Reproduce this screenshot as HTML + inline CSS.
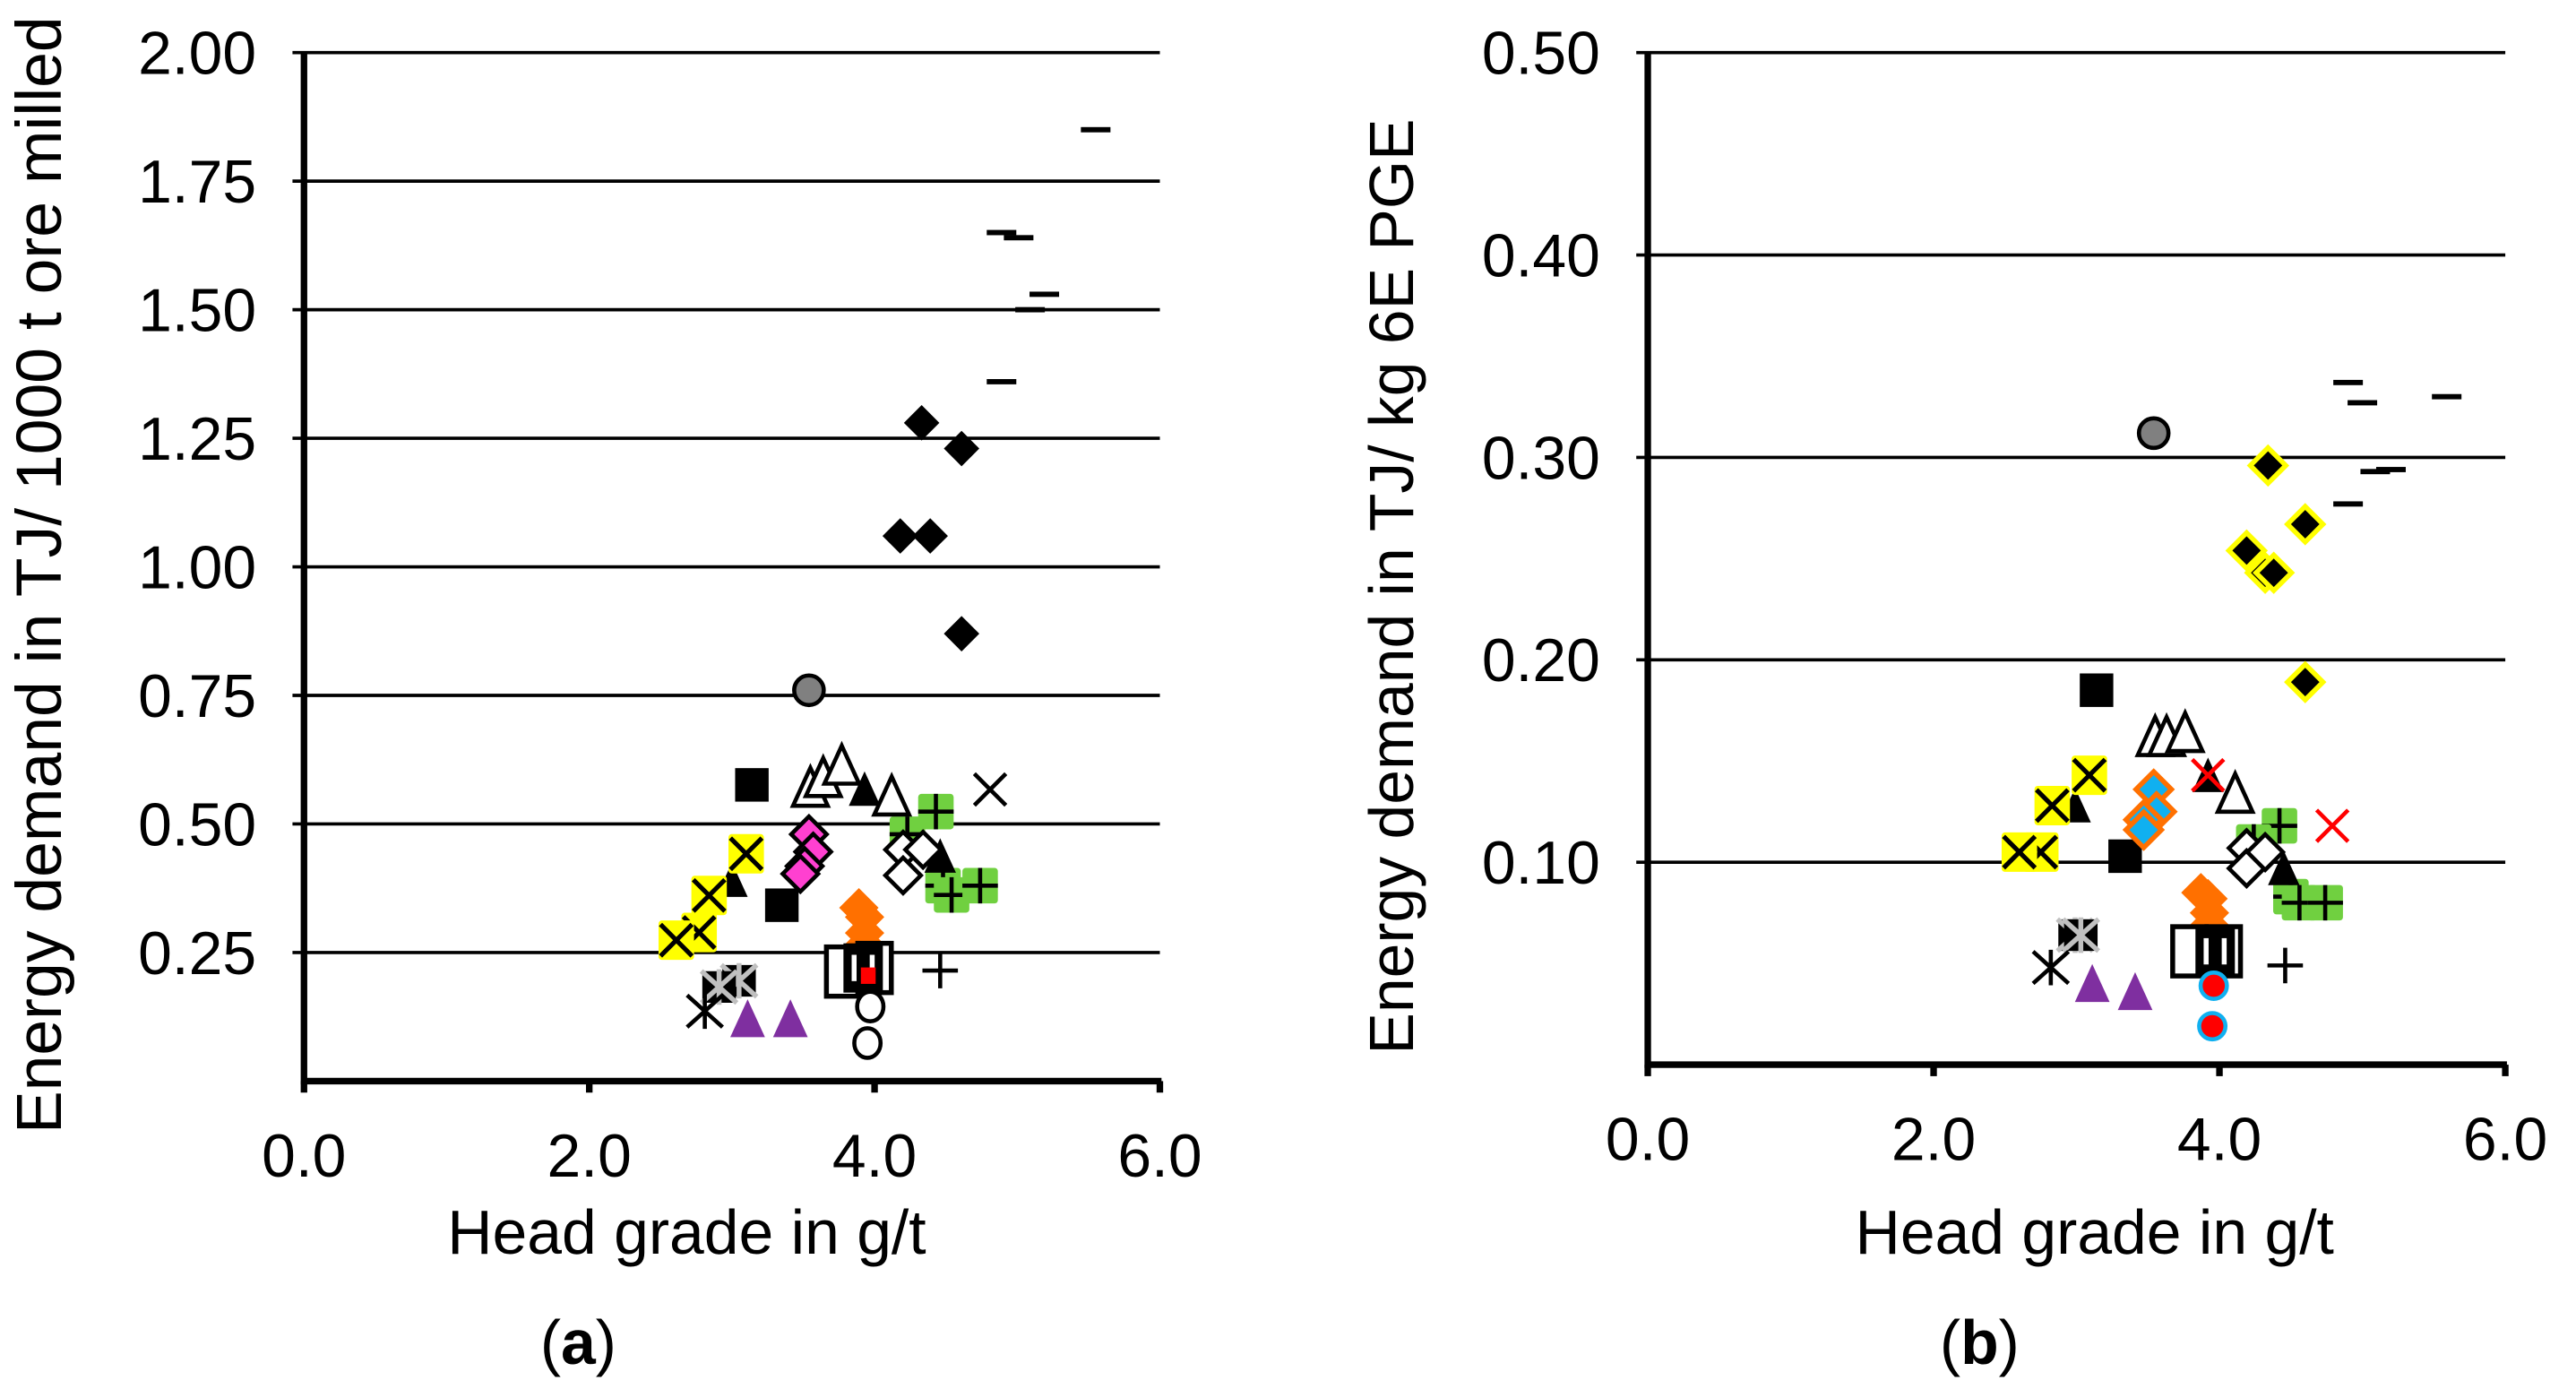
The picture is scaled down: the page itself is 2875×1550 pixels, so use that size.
<!DOCTYPE html>
<html><head><meta charset="utf-8"><style>
html,body{margin:0;padding:0;background:#fff;}
svg{display:block;}
text{font-family:"Liberation Sans",sans-serif;fill:#000;}
</style></head><body>
<svg id="fig" xmlns="http://www.w3.org/2000/svg" width="2875" height="1550" viewBox="0 0 1568 845.4">
<g id="A"></g>
<g id="B"></g>
</svg>
<script>
// ---------- Chart (a) data ----------
const aYTicks=["0.25","0.50","0.75","1.00","1.25","1.50","1.75","2.00"];
const aYTickVals=[0.25,0.5,0.75,1.0,1.25,1.5,1.75,2.0];
const xTicks=["0.0","2.0","4.0","6.0"];
const xTickVals=[0,2,4,6];
const aDashX=[5.55,4.89,5.01,5.19,5.09,4.89];
const aDashY=[1.85,1.65,1.64,1.53,1.50,1.36];
const aDiaX=[4.33,4.61,4.18,4.39,4.61];
const aDiaY=[1.28,1.23,1.06,1.06,0.87];
const aGrayCX=[3.54], aGrayCY=[0.76];
const aSqX=[3.14,3.35], aSqY=[0.576,0.342];
const aTriOX=[3.55,3.64,3.77,4.12], aTriOY=[0.567,0.586,0.61,0.55];
const aTriFX=[3.93,4.46,3.0], aTriFY=[0.564,0.434,0.387];
const aXX=[4.81], aXY=[0.567];
const aGPlusX=[4.43,4.23,4.48,4.54,4.74], aGPlusY=[0.524,0.48,0.38,0.362,0.38];
const aDiaOX=[4.2,4.2,4.34], aDiaOY=[0.45,0.40,0.45];
const aPinkX=[3.54,3.57,3.51,3.48], aPinkY=[0.48,0.446,0.418,0.403];
const aOrX=[3.89,3.93,3.93,3.93], aOrY=[0.337,0.319,0.288,0.266];
const aYXX=[3.10,2.84,2.77,2.61], aYXY=[0.442,0.361,0.289,0.274];
const aOSqX=[3.78,4.0], aOSqY=[0.213,0.22];
const aBSqX=[3.92], aBSqY=[0.22];
const aRedSqX=[3.95], aRedSqY=[0.205];
const aOCX=[3.97,3.95], aOCY=[0.145,0.074];
const aPlusX=[4.46], aPlusY=[0.215];
const aGAstX=[3.05,2.91], aGAstY=[0.195,0.183];
const aBAstX=[2.81], aBAstY=[0.136];
const aPurX=[3.11,3.41], aPurY=[0.117,0.117];
// ---------- Chart (b) data ----------
const bYTicks=["0.10","0.20","0.30","0.40","0.50"];
const bYTickVals=[0.1,0.2,0.3,0.4,0.5];
const bDashX=[4.90,5.00,5.59,5.09,5.20,4.90], bDashY=[0.337,0.327,0.330,0.293,0.294,0.277];
const bGrayCX=[3.54], bGrayCY=[0.312];
const bYDiaX=[4.34,4.60,4.19,4.32,4.38,4.60], bYDiaY=[0.296,0.267,0.254,0.243,0.243,0.189];
const bSqX=[3.14,3.34], bSqY=[0.185,0.103];
const bTriOX=[3.55,3.63,3.76,4.11], bTriOY=[0.161,0.161,0.163,0.133];
const bTriFX=[3.92,4.45,2.99], bTriFY=[0.142,0.096,0.127];
const bRXX=[3.92,4.79], bRXY=[0.143,0.118];
const bYXX=[3.09,2.83,2.75,2.60], bYXY=[0.143,0.128,0.105,0.105];
const bOBX=[3.54,3.56,3.47,3.47], bOBY=[0.136,0.125,0.121,0.116];
const bGPlusX=[4.42,4.24,4.50,4.56,4.74], bGPlusY=[0.118,0.110,0.083,0.080,0.080];
const bDiaOX=[4.19,4.19,4.32], bDiaOY=[0.107,0.097,0.105];
const bOrX=[3.87,3.92,3.93,3.93], bOrY=[0.085,0.082,0.075,0.069];
const bOSqX=[3.79,4.03], bOSqY=[0.056,0.056];
const bBSqX=[3.97], bBSqY=[0.056];
const bRCX=[3.96,3.95], bRCY=[0.039,0.019];
const bPlusX=[4.46], bPlusY=[0.049];
const bGAstX=[2.99,3.03], bGAstY=[0.064,0.064];
const bBAstX=[2.82], bBAstY=[0.048];
const bPurX=[3.11,3.41], bPurY=[0.039,0.035];

const NS="http://www.w3.org/2000/svg";
const S=1.2;
function mk(parent,tag,attrs){const e=document.createElementNS(NS,tag);for(const k in attrs)e.setAttribute(k,attrs[k]);parent.appendChild(e);return e;}

function chart(g,cfg){
  const sx=v=>cfg.x0+v*(cfg.x1-cfg.x0)/6;
  const sy=v=>cfg.y0-v*(cfg.y0-cfg.yTop)/cfg.yMax;
  cfg.yVals.forEach((v,i)=>{
    const l=mk(g,'line',{x1:sx(0)-7,x2:sx(6),y1:sy(v),y2:sy(v),stroke:'#000','stroke-width':2});
    
    
    const t=mk(g,'text',{x:cfg.x0-29,y:sy(v)+13,'font-size':37,'text-anchor':'end'});
    t.textContent=cfg.yLabels[i];
    
    
  });
  const ax=mk(g,'line',{x1:sx(0),x2:sx(6)+1,y1:sy(0),y2:sy(0),stroke:'#000','stroke-width':4});
  
  
  const ay=mk(g,'line',{x1:sx(0),x2:sx(0),y1:sy(0)+2,y2:sy(cfg.yMax),stroke:'#000','stroke-width':4});
  
  
  xTickVals.forEach((v,i)=>{
    const tk=mk(g,'line',{x1:sx(v),x2:sx(v),y1:sy(0),y2:sy(0)+7,stroke:'#000','stroke-width':4});
    
    
    const t=mk(g,'text',{x:sx(v),y:sy(0)+cfg.xLabOff,'font-size':37,'text-anchor':'middle'});
    t.textContent=xTicks[i];
    
    
  });
  const xt=mk(g,'text',{x:cfg.xTitleX,y:cfg.xTitleY,'font-size':38,'text-anchor':'middle'});
  xt.textContent='Head grade in g/t';
  
  
  const yt=mk(g,'text',{x:0,y:0,'font-size':cfg.yTitleSize,'text-anchor':'middle',transform:`translate(${cfg.yTitleX},${cfg.yTitleY}) rotate(-90)`});
  yt.textContent=cfg.yTitle;
  
  
  const pl=mk(g,'text',{x:cfg.panelX,y:830,'font-size':38,'text-anchor':'middle','font-family':'Liberation Serif, serif'});
  pl.innerHTML='(<tspan font-weight="bold">'+cfg.panel+'</tspan>)';
  
  
  cfg.series.forEach(s=>{
    const sg=mk(g,'g',{});
    
    
    s.xs.forEach((xv,i)=>{
      const p=mark(sg,s.m,sx(xv),sy(s.ys[i]));
      
      
    });
  });
}
function dia(g,x,y,r,a){r*=S;return mk(g,'polygon',Object.assign({points:`${x},${y-r} ${x+r},${y} ${x},${y+r} ${x-r},${y}`},a));}
function tri(g,x,y,r,a){r*=S;return mk(g,'polygon',Object.assign({points:`${x},${y-r} ${x+r*0.8},${y+r*0.75} ${x-r*0.8},${y+r*0.75}`},a));}
function xm(g,x,y,r,c,w){r*=S;return mk(g,'path',{d:`M${x-r},${y-r}L${x+r},${y+r}M${x-r},${y+r}L${x+r},${y-r}`,stroke:c,'stroke-width':w,fill:'none'});}
function rect(g,x,y,w,h,a){w*=S;h*=S;return mk(g,'rect',Object.assign({x:x-w/2,y:y-h/2,width:w,height:h},a));}
function mark(g,m,x,y){
  const k=mk(g,'g',{});
  const r=9*S;
  switch(m){
    case 'dash': mk(k,'rect',{x:x-9,y:y-1.6,width:18,height:3.2,fill:'#000'});break;
    case 'dia': dia(k,x,y,9,{fill:'#000'});break;
    case 'diaO': dia(k,x,y,9,{fill:'#fff',stroke:'#000','stroke-width':2.5});break;
    case 'grayC': mk(k,'circle',{cx:x,cy:y,r:9,fill:'#808080',stroke:'#000','stroke-width':2.5});break;
    case 'sq': rect(k,x,y,17,17,{fill:'#000'});break;
    case 'triO': tri(k,x,y,11,{fill:'#fff',stroke:'#000','stroke-width':2.5});break;
    case 'triF': tri(k,x,y,10,{fill:'#000'});break;
    case 'x': xm(k,x,y,8,'#000',2.5);break;
    case 'redX': xm(k,x,y,8,'#f00',2.5);break;
    case 'gplus': rect(k,x,y,18,18,{fill:'#70d040',rx:2});
      mk(k,'path',{d:`M${x-r},${y}H${x+r}M${x},${y-r}V${y+r}`,stroke:'#000','stroke-width':2.5});break;
    case 'pink': dia(k,x,y,9,{fill:'#ff40d0',stroke:'#000','stroke-width':2.5});break;
    case 'orange': dia(k,x,y,10,{fill:'#ff7000'});break;
    case 'ob': dia(k,x,y,9,{fill:'#10b0f0',stroke:'#ff7000','stroke-width':3});break;
    case 'yx': rect(k,x,y,18,20,{fill:'#ff0',rx:2});xm(k,x,y,8,'#000',2.8);break;
    case 'osq': rect(k,x,y,17,25,{fill:'#fff',stroke:'#000','stroke-width':3});break;
    case 'bsq': rect(k,x,y,20,25,{fill:'#000'});
      mk(k,'rect',{x:x-7,y:y-8,width:3,height:16,fill:'#fff'});mk(k,'rect',{x:x+4,y:y-8,width:3,height:16,fill:'#fff'});break;
    case 'redsq': mk(k,'rect',{x:x-4,y:y-5,width:9,height:10,fill:'#f00'});break;
    case 'oc': mk(k,'ellipse',{cx:x,cy:y,rx:8,ry:9,fill:'#fff',stroke:'#000','stroke-width':2.5});break;
    case 'rc': mk(k,'circle',{cx:x,cy:y,r:8,fill:'#f00',stroke:'#10b0f0','stroke-width':2.5});break;
    case 'plus': mk(k,'path',{d:`M${x-r},${y}H${x+r}M${x},${y-r}V${y+r}`,stroke:'#000','stroke-width':2.5});break;
    case 'gast': rect(k,x,y,17,16,{fill:'#000',rx:2});
      mk(k,'path',{d:`M${x-r},${y-r*0.9}L${x+r},${y+r*0.9}M${x-r},${y+r*0.9}L${x+r},${y-r*0.9}M${x},${y-r}V${y+r}`,stroke:'#c0c0c0','stroke-width':3});break;
    case 'bast': mk(k,'path',{d:`M${x-r},${y-r*0.9}L${x+r},${y+r*0.9}M${x-r},${y+r*0.9}L${x+r},${y-r*0.9}M${x},${y-r}V${y+r}`,stroke:'#000','stroke-width':2.5});break;
    case 'pur': tri(k,x,y,11,{fill:'#7f2fa0'});break;
    case 'ydia': dia(k,x,y,9,{fill:'#000',stroke:'#ff0','stroke-width':3});break;
  }
  return k;
}
chart(document.getElementById('A'),{x0:185,x1:706,y0:658,yTop:32,yMax:2.0,yVals:aYTickVals,yLabels:aYTicks,
  xLabOff:58,xTitleX:418,xTitleY:763,yTitleX:37,yTitleY:350,yTitleSize:39,yTitle:'Energy demand in TJ/ 1000 t ore milled',panel:'a',panelX:352,
  series:[
    {name:'dash-series',m:'dash',xs:aDashX,ys:aDashY},
    {name:'black-diamond-series',m:'dia',xs:aDiaX,ys:aDiaY},
    {name:'gray-circle-series',m:'grayC',xs:aGrayCX,ys:aGrayCY},
    {name:'black-square-series',m:'sq',xs:aSqX,ys:aSqY},
    {name:'green-plus-series',m:'gplus',xs:aGPlusX,ys:aGPlusY},
    {name:'open-triangle-series',m:'triO',xs:aTriOX,ys:aTriOY},
    {name:'filled-triangle-series',m:'triF',xs:aTriFX,ys:aTriFY},
    {name:'x-series',m:'x',xs:aXX,ys:aXY},
    {name:'open-diamond-series',m:'diaO',xs:aDiaOX,ys:aDiaOY},
    {name:'pink-diamond-series',m:'pink',xs:aPinkX,ys:aPinkY},
    {name:'orange-diamond-series',m:'orange',xs:aOrX,ys:aOrY},
    {name:'yellow-x-series',m:'yx',xs:aYXX,ys:aYXY},
    {name:'open-square-series',m:'osq',xs:aOSqX,ys:aOSqY},
    {name:'bold-square-series',m:'bsq',xs:aBSqX,ys:aBSqY},
    {name:'red-square-series',m:'redsq',xs:aRedSqX,ys:aRedSqY},
    {name:'open-circle-series',m:'oc',xs:aOCX,ys:aOCY},
    {name:'plus-series',m:'plus',xs:aPlusX,ys:aPlusY},
    {name:'gray-asterisk-series',m:'gast',xs:aGAstX,ys:aGAstY},
    {name:'black-asterisk-series',m:'bast',xs:aBAstX,ys:aBAstY},
    {name:'purple-triangle-series',m:'pur',xs:aPurX,ys:aPurY}
  ]});
chart(document.getElementById('B'),{x0:1003,x1:1525,y0:648,yTop:32,yMax:0.5,yVals:bYTickVals,yLabels:bYTicks,
  xLabOff:58,xTitleX:1275,xTitleY:763,yTitleX:860,yTitleY:357,yTitleSize:38,yTitle:'Energy demand in TJ/ kg 6E PGE',panel:'b',panelX:1205,
  series:[
    {name:'dash-series',m:'dash',xs:bDashX,ys:bDashY},
    {name:'gray-circle-series',m:'grayC',xs:bGrayCX,ys:bGrayCY},
    {name:'yellow-diamond-series',m:'ydia',xs:bYDiaX,ys:bYDiaY},
    {name:'black-square-series',m:'sq',xs:bSqX,ys:bSqY},
    {name:'green-plus-series',m:'gplus',xs:bGPlusX,ys:bGPlusY},
    {name:'open-triangle-series',m:'triO',xs:bTriOX,ys:bTriOY},
    {name:'filled-triangle-series',m:'triF',xs:bTriFX,ys:bTriFY},
    {name:'red-x-series',m:'redX',xs:bRXX,ys:bRXY},
    {name:'yellow-x-series',m:'yx',xs:bYXX,ys:bYXY},
    {name:'blue-diamond-series',m:'ob',xs:bOBX,ys:bOBY},
    {name:'open-diamond-series',m:'diaO',xs:bDiaOX,ys:bDiaOY},
    {name:'orange-diamond-series',m:'orange',xs:bOrX,ys:bOrY},
    {name:'open-square-series',m:'osq',xs:bOSqX,ys:bOSqY},
    {name:'bold-square-series',m:'bsq',xs:bBSqX,ys:bBSqY},
    {name:'red-circle-series',m:'rc',xs:bRCX,ys:bRCY},
    {name:'plus-series',m:'plus',xs:bPlusX,ys:bPlusY},
    {name:'gray-asterisk-series',m:'gast',xs:bGAstX,ys:bGAstY},
    {name:'black-asterisk-series',m:'bast',xs:bBAstX,ys:bBAstY},
    {name:'purple-triangle-series',m:'pur',xs:bPurX,ys:bPurY}
  ]});
</script>
</body></html>
